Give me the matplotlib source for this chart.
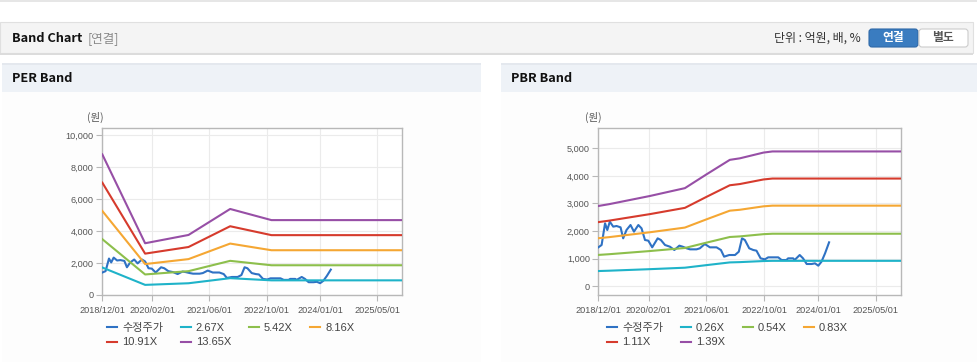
import matplotlib
matplotlib.use("Agg")
import matplotlib.pyplot as plt
import matplotlib.dates as mdates
from matplotlib.patches import Rectangle, FancyBboxPatch
import numpy as np
import pandas as pd

plt.rcParams['font.family'] = ['Liberation Sans', 'Noto Sans CJK KR', 'DejaVu Sans']

# 수정주가 (adjusted price), shared by both charts
price_dates = ['2018-12-01', '2018-12-29', '2019-01-27', '2019-02-15', '2019-03-08', '2019-04-06',
               '2019-05-04', '2019-06-07', '2019-06-29', '2019-07-27', '2019-08-30', '2019-09-28',
               '2019-11-04', '2019-12-01', '2019-12-30', '2020-01-27', '2020-02-29', '2020-04-15',
               '2020-05-12', '2020-06-16', '2020-07-27', '2020-09-03', '2020-10-15', '2020-11-12',
               '2020-12-16', '2021-01-13', '2021-03-09', '2021-04-06', '2021-05-18', '2021-06-30',
               '2021-08-25', '2021-10-01', '2021-10-28', '2021-12-10', '2022-01-28', '2022-03-01',
               '2022-03-28', '2022-04-21', '2022-05-28', '2022-07-01', '2022-07-28', '2022-09-01',
               '2022-10-07', '2022-11-04', '2023-01-28', '2023-02-25', '2023-04-07', '2023-04-21',
               '2023-06-03', '2023-06-15', '2023-07-28', '2023-08-25', '2023-09-25', '2023-11-06',
               '2023-12-04', '2024-01-01', '2024-01-28', '2024-02-27', '2024-04-01']
price = [1406, 1491, 2279, 2036, 2339, 2158, 2182, 2133, 1733, 2036, 2218, 1976,
         2218, 2097, 1673, 1649, 1406, 1733, 1673, 1491, 1430, 1309, 1467, 1430,
         1370, 1333, 1333, 1370, 1527, 1406, 1406, 1309, 1067, 1127, 1127, 1248,
         1733, 1673, 1370, 1309, 1285, 1006, 970, 1042, 1042, 945, 945, 1006,
         1006, 945, 1127, 1006, 800, 800, 824, 739, 885, 1188, 1588]

# PER band: EPS path and multiples
eps_dates = ['2018-12-01', '2019-12-01', '2020-12-05', '2021-11-25', '2022-11-12', '2025-12-01']
eps = [644, 237, 275, 394, 343, 343]
per_mult = [2.67, 5.42, 8.16, 10.91, 13.65]
per_labels = ['2.67X', '5.42X', '8.16X', '10.91X', '13.65X']

# PBR band: BPS path and multiples
bps_dates = ['2018-12-01', '2019-03-01', '2020-02-10', '2020-12-01', '2021-06-01', '2021-12-15',
             '2022-03-10', '2022-09-25', '2022-12-10', '2025-12-01']
bps = [2093, 2140, 2355, 2560, 2920, 3300, 3340, 3490, 3520, 3520]
pbr_mult = [0.26, 0.54, 0.83, 1.11, 1.39]
pbr_labels = ['0.26X', '0.54X', '0.83X', '1.11X', '1.39X']

tick_dates = ['2018-12-01', '2020-02-01', '2021-06-01', '2022-10-01', '2024-01-01', '2025-05-01']

price_color = '#2f72c4'
band_colors = ['#1fb3c9', '#8dbf4c', '#f5a733', '#d63b2d', '#974fa6']

W, H = 978, 362
fig = plt.figure(figsize=(W / 100, H / 100), dpi=100)

# page background drawn in pixel coordinates
bg = fig.add_axes([0, 0, 1, 1], zorder=0)
bg.set_xlim(0, W)
bg.set_ylim(H, 0)
bg.axis('off')
bg.add_patch(Rectangle((0, 0), W, 2, color='#e6e6e6', lw=0))
bg.add_patch(Rectangle((0, 22), 973, 31, facecolor='#f4f4f4', edgecolor='#e0e0e0', lw=0.8))
bg.add_patch(Rectangle((0, 53), 973, 2, color='#dcdcdc', lw=0))
bg.text(12, 39, 'Band Chart', fontsize=9.2, fontweight='bold', family=['Noto Sans CJK KR'],
        va='center', color='#111')
bg.text(88, 39, '[연결]', fontsize=9, family=['Noto Sans CJK KR'], va='center', color='#8a8a8a')
bg.text(861, 38, '단위 : 억원, 배, %', fontsize=8.6, family=['Noto Sans CJK KR', 'DejaVu Sans'],
        va='center', ha='right', color='#333')
bg.add_patch(FancyBboxPatch((869, 29), 49, 18, boxstyle='round,pad=0,rounding_size=3',
                            facecolor='#3a7cc0', edgecolor='#2f69a8', lw=0.8))
bg.add_patch(FancyBboxPatch((919, 29), 49, 18, boxstyle='round,pad=0,rounding_size=3',
                            facecolor='white', edgecolor='#cccccc', lw=0.8))
bg.text(893, 38, '연결', fontsize=8.5, fontweight='bold', family=['Noto Sans CJK KR'],
        va='center', ha='center', color='white')
bg.text(943, 38, '별도', fontsize=8.5, fontweight='bold', family=['Noto Sans CJK KR'],
        va='center', ha='center', color='#555')

for x0, x1, title in [(2, 481, 'PER Band'), (501, 978, 'PBR Band')]:
    bg.add_patch(Rectangle((x0, 63), x1 - x0, 29, facecolor='#eef2f7', edgecolor='none'))
    bg.add_patch(Rectangle((x0, 63), x1 - x0, 1.5, color='#e4e8ee', lw=0))
    bg.add_patch(Rectangle((x0, 92), x1 - x0, 270, facecolor='#fdfdfd', edgecolor='none'))
    bg.text(x0 + 10, 78, title, fontsize=9.2, fontweight='bold', family=['Noto Sans CJK KR'],
            va='center', color='#111')

ticks = pd.to_datetime(tick_dates)
pdates = pd.to_datetime(price_dates)


def band_panel(rect, base_dates, base, mults, labels, yticks, ylim, unit_xy, leg_x):
    ax = fig.add_axes(rect, zorder=2)
    ax.set_facecolor('white')
    hp, = ax.plot(pdates, price, color=price_color, lw=1.5, zorder=3)
    hb = []
    bd = pd.to_datetime(base_dates)
    for m, c in zip(mults, band_colors):
        h, = ax.plot(bd, np.array(base) * m, color=c, lw=1.5, zorder=4)
        hb.append(h)
    ax.set_xlim(pd.Timestamp('2018-12-01'), pd.Timestamp('2025-11-29'))
    ax.set_ylim(*ylim)
    ax.set_xticks(ticks)
    ax.xaxis.set_major_formatter(mdates.DateFormatter('%Y/%m/%d'))
    ax.set_yticks(yticks)
    ax.set_yticklabels([f'{v:,}' for v in yticks])
    ax.grid(True, color='#ebebeb', lw=0.8)
    ax.set_axisbelow(True)
    for s in ax.spines.values():
        s.set_color('#b8b8b8')
        s.set_linewidth(1)
    ax.tick_params(axis='both', colors='#b8b8b8', labelcolor='#555', labelsize=6.6,
                   length=4, width=0.8, pad=2)
    ax.tick_params(axis='x', pad=4)
    # legend row-major order: 수정주가, b0, b1, b2 / b3, b4
    handles = [hp, hb[3], hb[0], hb[4], hb[1], hb[2]]
    names = ['수정주가', labels[3], labels[0], labels[4], labels[1], labels[2]]
    ax.legend(handles, names, ncol=4, loc='upper left', frameon=False,
              bbox_to_anchor=(leg_x / W, 1 - 323 / H), bbox_transform=fig.transFigure,
              borderaxespad=0, borderpad=0, handlelength=0.9, handletextpad=0.45,
              columnspacing=1.6, labelspacing=0.4,
              prop={'size': 8, 'family': ['Liberation Sans', 'Noto Sans CJK KR']},
              labelcolor='#444')
    bg.text(unit_xy[0], unit_xy[1], '(원)', fontsize=7.5, family=['Noto Sans CJK KR'],
            ha='center', va='center', color='#555')
    return ax


band_panel([102.3 / W, 1 - 295 / H, 299.7 / W, 167 / H], eps_dates, eps, per_mult, per_labels,
           [0, 2000, 4000, 6000, 8000, 10000], (0, 10440), (95, 117), 107)
band_panel([598.3 / W, 1 - 295 / H, 302.7 / W, 167 / H], bps_dates, bps, pbr_mult, pbr_labels,
           [0, 1000, 2000, 3000, 4000, 5000], (-327, 5745), (593, 117), 607)

fig.savefig('out.png', dpi=100)
